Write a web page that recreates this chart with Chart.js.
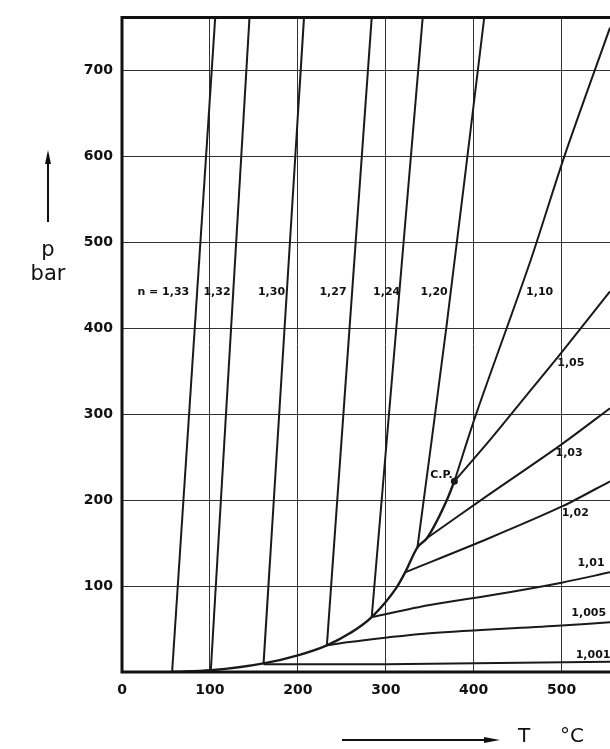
<!DOCTYPE html>
<html><head><meta charset="utf-8">
<script src="https://cdn.jsdelivr.net/npm/chart.js@4"></script>
<style>html,body{margin:0;padding:0;background:#fff}canvas{display:block}</style>
</head><body><canvas id="c" width="610" height="749"></canvas>
<script>
// ---- data ----
const xTicks = [0, 100, 200, 300, 400, 500];
const yTicks = [100, 200, 300, 400, 500, 600, 700];
const xMin = 0, xMax = 555, yMin = 0, yMax = 762;

// saturation curve (T in °C, p in bar)
const satT = [57, 101, 161, 202, 233, 259, 284, 312, 322, 336, 347, 369, 378];
const satP = [0, 2, 10, 20, 31, 45, 64, 98, 116, 145, 156, 199, 222];

// isentropic exponent lines
const n133T = [57, 106],   n133P = [0, 762];
const n132T = [101, 145],  n132P = [2, 762];
const n130T = [161, 207],  n130P = [10, 762];
const n127T = [233, 284],  n127P = [31, 762];
const n124T = [284, 342],  n124P = [64, 762];
const n120T = [336, 369, 412], n120P = [145, 402, 762];
const n110T = [378, 403, 464, 503, 555], n110P = [222, 301, 477, 600, 750];
const n105T = [378, 420, 460, 500, 555], n105P = [222, 272, 322, 372, 443];
const n103T = [347, 418, 500, 555], n103P = [156, 207, 265, 307];
const n102T = [322, 418, 501, 555], n102P = [116, 156, 193, 222];
const n101T = [284, 350, 418, 500, 555], n101P = [64, 78, 89, 104, 116];
const n1005T = [233, 259, 350, 500, 555], n1005P = [31, 35, 45, 54, 58];
const n1001T = [161, 300, 555], n1001P = [9, 9, 12];

// critical point
const cpT = [378], cpP = [222];

// curve labels
const labelText = ["n = 1,33", "1,32", "1,30", "1,27", "1,24", "1,20", "1,10",
                   "1,05", "1,03", "1,02", "1,01", "1,005", "1,001", "C.P."];
const labelT = [47, 108, 170, 240, 301, 355, 475, 495, 493, 500, 518, 511, 516, 376];
const labelP = [442, 442, 442, 442, 442, 442, 442, 359, 255, 185, 127, 69, 20, 229];
const labelAlign = ["center","center","center","center","center","center","center",
                    "left","left","left","left","left","left","right"];

// ---- build ----
const pts = (T, P) => T.map((t, i) => ({x: t, y: P[i]}));
const lineDs = (T, P, extra) => Object.assign({
  data: pts(T, P), showLine: true, borderColor: '#1a1a1a', borderWidth: 2,
  pointRadius: 0, fill: false, tension: 0
}, extra || {});

const datasets = [
  lineDs(satT, satP, {cubicInterpolationMode: 'monotone', borderWidth: 2.4}),
  lineDs(n133T, n133P), lineDs(n132T, n132P), lineDs(n130T, n130P),
  lineDs(n127T, n127P), lineDs(n124T, n124P),
  lineDs(n120T, n120P, {tension: 0.3}),
  lineDs(n110T, n110P, {tension: 0.3}),
  lineDs(n105T, n105P, {tension: 0.3}),
  lineDs(n103T, n103P, {tension: 0.3}),
  lineDs(n102T, n102P, {tension: 0.3}),
  lineDs(n101T, n101P, {tension: 0.3}),
  lineDs(n1005T, n1005P, {tension: 0.3}),
  lineDs(n1001T, n1001P, {tension: 0.3}),
  {data: pts(cpT, cpP), showLine: false, pointRadius: 3.5, pointBackgroundColor: '#1a1a1a', pointBorderWidth: 0}
];

const FONT = "'DejaVu Sans', sans-serif";

const decor = {
  id: 'decor',
  afterDatasetsDraw(chart) {
    const ctx = chart.ctx, xs = chart.scales.x, ys = chart.scales.y, a = chart.chartArea;
    ctx.save();
    // thick frame: left, bottom, top
    ctx.strokeStyle = '#111'; ctx.lineWidth = 3;
    ctx.beginPath();
    ctx.moveTo(a.right, a.top); ctx.lineTo(a.left, a.top); ctx.lineTo(a.left, a.bottom); ctx.lineTo(a.right, a.bottom);
    ctx.stroke();
    // curve labels
    ctx.fillStyle = '#111';
    ctx.font = "bold 11px " + FONT;
    ctx.textBaseline = 'middle';
    for (let i = 0; i < labelText.length; i++) {
      ctx.textAlign = labelAlign[i];
      ctx.fillText(labelText[i], xs.getPixelForValue(labelT[i]), ys.getPixelForValue(labelP[i]));
    }
    // axis titles with arrows
    ctx.font = "21px " + FONT;
    ctx.textAlign = 'center';
    ctx.fillText('p', 48, 251);
    ctx.fillText('bar', 48, 275);
    ctx.lineWidth = 2;
    ctx.beginPath(); ctx.moveTo(48, 222); ctx.lineTo(48, 160); ctx.stroke();
    ctx.beginPath(); ctx.moveTo(48, 150); ctx.lineTo(45, 164); ctx.lineTo(51, 164); ctx.closePath(); ctx.fill();
    ctx.beginPath(); ctx.moveTo(342, 740); ctx.lineTo(488, 740); ctx.stroke();
    ctx.beginPath(); ctx.moveTo(500, 740); ctx.lineTo(484, 737); ctx.lineTo(484, 743); ctx.closePath(); ctx.fill();
    ctx.font = "20px " + FONT;
    ctx.fillText('T', 524, 737);
    ctx.fillText('°C', 572, 737);
    ctx.restore();
  }
};

new Chart(document.getElementById('c'), {
  type: 'scatter',
  data: {datasets},
  options: {
    responsive: false, animation: false,
    layout: {autoPadding: false, padding: {top: 14, right: 0, left: 0, bottom: 0}},
    plugins: {legend: {display: false}, tooltip: {enabled: false}},
    scales: {
      x: {
        type: 'linear', min: xMin, max: xMax,
        afterBuildTicks: s => { s.ticks = xTicks.map(v => ({value: v})); },
        afterFit: s => { s.height = 77; },
        grid: {color: '#333', lineWidth: 1, drawTicks: false},
        border: {display: false},
        ticks: {color: '#111', font: {family: FONT, size: 14, weight: 'bold'}, padding: 10,
                maxRotation: 0, autoSkip: false}
      },
      y: {
        type: 'linear', min: yMin, max: yMax,
        afterBuildTicks: s => { s.ticks = yTicks.map(v => ({value: v})); },
        afterFit: s => { s.width = 122; },
        grid: {color: '#333', lineWidth: 1, drawTicks: false},
        border: {display: false},
        ticks: {color: '#111', font: {family: FONT, size: 14, weight: 'bold'}, padding: 9}
      }
    }
  },
  plugins: [decor]
});
</script></body></html>
